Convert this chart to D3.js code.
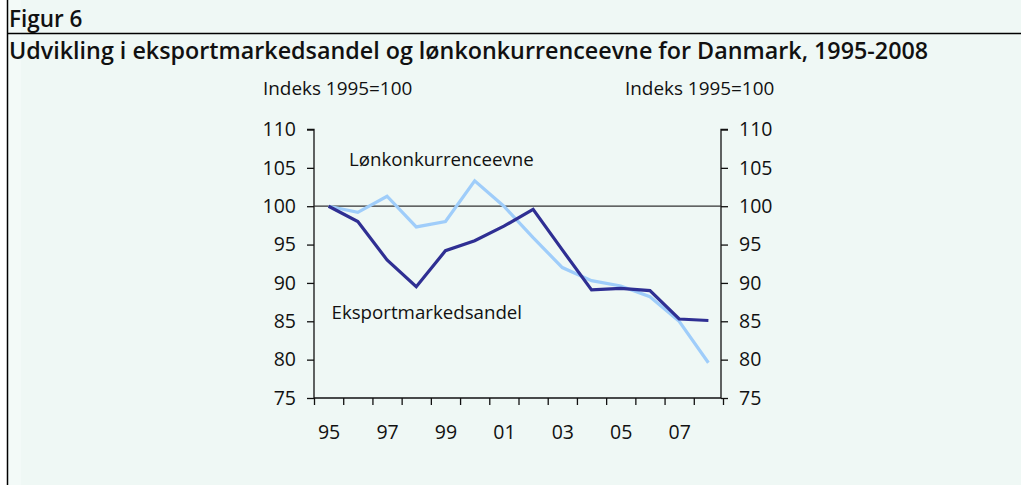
<!DOCTYPE html>
<html><head><meta charset="utf-8">
<script src="https://cdn.jsdelivr.net/npm/d3@7"></script>
<style>
html,body{margin:0;padding:0;background:#fff;}
svg{display:block;}
text{font-family:"Open Sans","Noto Sans",sans-serif;fill:#111;}
</style></head>
<body>
<svg id="chart" width="1021" height="485"></svg>
<script>
const years = [1995,1996,1997,1998,1999,2000,2001,2002,2003,2004,2005,2006,2007,2008];
const eksport = [100,98.0,93.0,89.5,94.2,95.5,97.4,99.6,94.3,89.1,89.3,89.0,85.3,85.1];
const loen = [100,99.2,101.3,97.3,98.0,103.3,100.0,95.9,92.0,90.3,89.6,88.2,85.0,79.6];
const yTicks = [75,80,85,90,95,100,105,110];
const xLabelYears = [1995,1997,1999,2001,2003,2005,2007];
const seriesNames = ["Eksportmarkedsandel","Lønkonkurrenceevne"];
const axisTitle = "Indeks 1995=100";
const figLabel = "Figur 6";
const title = "Udvikling i eksportmarkedsandel og lønkonkurrenceevne for Danmark, 1995-2008";

(function(){
const svg = d3.select("#chart");
const W = 1021, H = 485;
svg.append("rect").attr("x",0).attr("y",0).attr("width",W).attr("height",H).attr("fill","#ffffff");
svg.append("rect").attr("x",7).attr("y",0).attr("width",W-7).attr("height",H).attr("fill","#eff8f5");
svg.append("rect").attr("x",8).attr("y",0).attr("width",13).attr("height",H).attr("fill","#f3faf8");
svg.append("line").attr("x1",7.5).attr("x2",7.5).attr("y1",0).attr("y2",H).attr("stroke","#000").attr("stroke-width",1.5);
svg.append("line").attr("x1",7).attr("x2",W).attr("y1",33.5).attr("y2",33.5).attr("stroke","#000").attr("stroke-width",1.5);

svg.append("text").attr("x",9).attr("y",27).attr("font-size",22.5).attr("font-weight",600).text(figLabel);
svg.append("text").attr("x",9).attr("y",59).attr("font-size",23.3).attr("font-weight",600).text(title);

const pLeft = 314, pRight = 721, pTop = 129.5, pBottom = 398;
const x = d3.scaleLinear().domain([1994.5, 2008.5]).range([pLeft, 723]);
const y = d3.scaleLinear().domain([75,110]).range([pBottom, pTop]);

svg.append("text").attr("x",263).attr("y",95).attr("font-size",18.9).text(axisTitle);
svg.append("text").attr("x",625).attr("y",95).attr("font-size",18.9).text(axisTitle);

const gl = svg.append("g").attr("transform",`translate(${pLeft},0)`)
  .call(d3.axisLeft(y).tickValues(yTicks).tickSize(7).tickPadding(11));
const gr = svg.append("g").attr("transform",`translate(${pRight},0)`)
  .call(d3.axisRight(y).tickValues(yTicks).tickSize(7).tickPadding(11));
[gl,gr].forEach(g=>{
  g.selectAll("text").attr("font-size",19.5).attr("fill","#111").attr("font-family",'"Open Sans","Noto Sans",sans-serif');
  g.selectAll("line,path").attr("stroke","#111").attr("stroke-width",1.3);
});
gl.select(".domain").attr("d",`M-7,${pTop}H0V${pBottom}`);
gr.select(".domain").attr("d",`M7,${pTop}H0V${pBottom}`);

const boundaries = d3.range(years.length+1).map(i=>1994.5+i);
const gx = svg.append("g").attr("transform",`translate(0,${pBottom})`)
  .call(d3.axisBottom(x).tickValues(boundaries).tickSize(7).tickFormat(""));
gx.select(".domain").attr("d",`M${pLeft},0H${pRight}`);
gx.selectAll("line,path").attr("stroke","#111").attr("stroke-width",1.3);
const gxl = svg.append("g").attr("transform",`translate(0,${pBottom})`)
  .call(d3.axisBottom(x).tickValues(xLabelYears).tickSize(0).tickPadding(27)
    .tickFormat(d=>String(d).slice(2)));
gxl.select(".domain").remove();
gxl.selectAll("text").attr("font-size",19.5).attr("fill","#111").attr("font-family",'"Open Sans","Noto Sans",sans-serif');

svg.append("line").attr("x1",pLeft).attr("x2",pRight).attr("y1",y(100)).attr("y2",y(100))
  .attr("stroke","#333").attr("stroke-width",1.3);

const line = d3.line().x((d,i)=>x(years[i])).y(d=>y(d));
svg.append("path").datum(loen).attr("d",line).attr("fill","none")
  .attr("stroke","#9fcdfa").attr("stroke-width",3.2).attr("stroke-linejoin","miter");
svg.append("path").datum(eksport).attr("d",line).attr("fill","none")
  .attr("stroke","#2f2f93").attr("stroke-width",3.2).attr("stroke-linejoin","miter");

svg.append("text").attr("x",349).attr("y",166).attr("font-size",18.7).text(seriesNames[1]);
svg.append("text").attr("x",331.5).attr("y",318.5).attr("font-size",18.7).text(seriesNames[0]);
})();
</script>
</body></html>
